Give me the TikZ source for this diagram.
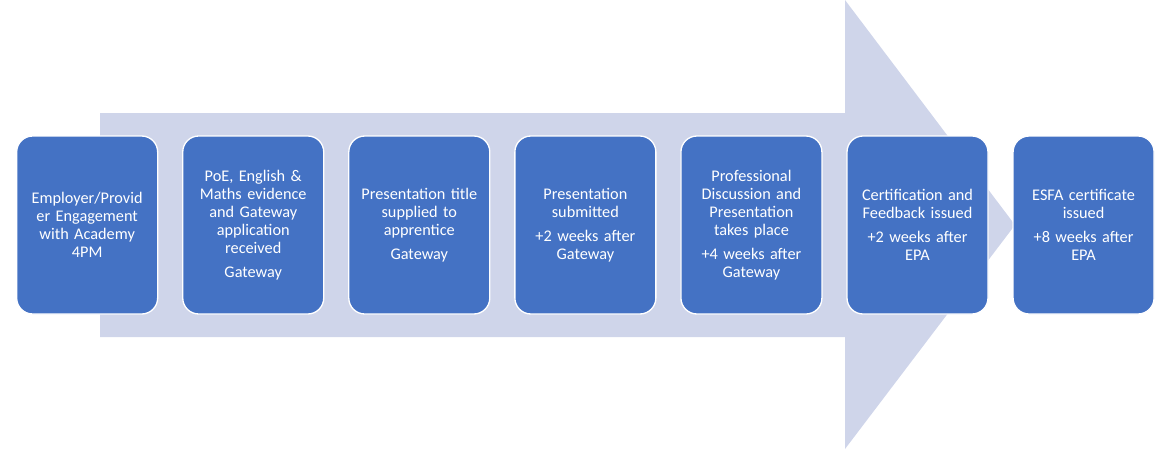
\documentclass[tikz,border=0pt]{standalone}
\usepackage{fontspec}
\setmainfont{Carlito}
\usetikzlibrary{positioning}
\definecolor{arrowfill}{HTML}{CFD5EA}
\definecolor{stepblue}{HTML}{4472C4}
\tikzset{
    every node/.style={font=\fontsize{12.2}{13.6}\selectfont},
    stage/.style={draw=white, line width=1pt, fill=stepblue, text=white,
        rounded corners=12pt, minimum width=105.75pt, minimum height=133.5pt,
        text width=101pt, align=center, inner sep=1pt}
}
\begin{document}
\begin{tikzpicture}[
            x = 0.75pt, y = -0.75pt, % pixel units
            node distance = 17.8pt
        ]

        \useasboundingbox (0,0) rectangle (1157,457);

        % background arrow
        \fill[arrowfill] (100,113) -- (845,113) -- (845,0) -- (1015,225)
            -- (845,449) -- (845,337) -- (100,337) -- cycle;

        \node[stage, anchor=west] (s1) at (16,225)
            {Employer/Provid\\er Engagement\\with Academy\\4PM};
        \node[stage] [right=of s1] (s2)
            {PoE, English \&\\Maths evidence\\and Gateway\\application\\received\\[4pt]Gateway};
        \node[stage] [right=of s2] (s3)
            {Presentation title\\supplied to\\apprentice\\[4pt]Gateway};
        \node[stage] [right=of s3] (s4)
            {Presentation\\submitted\\[4pt]+2 weeks after\\Gateway};
        \node[stage] [right=of s4] (s5)
            {Professional\\Discussion and\\Presentation\\takes place\\[4pt]+4 weeks after\\Gateway};
        \node[stage] [right=of s5] (s6)
            {Certification and\\Feedback issued\\[4pt]+2 weeks after\\EPA};
        \node[stage] [right=of s6] (s7)
            {ESFA certificate\\issued\\[4pt]+8 weeks after\\EPA};

  \end{tikzpicture}
\end{document}
